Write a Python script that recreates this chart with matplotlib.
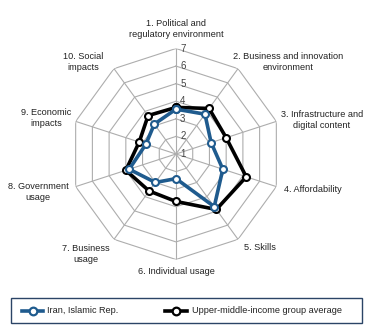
import numpy as np
import matplotlib
matplotlib.use("Agg")
import matplotlib.pyplot as plt
from matplotlib.lines import Line2D
from matplotlib.patches import Rectangle

categories = ["1. Political and\nregulatory environment",
              "2. Business and innovation\nenvironment",
              "3. Infrastructure and\ndigital content",
              "4. Affordability",
              "5. Skills",
              "6. Individual usage",
              "7. Business\nusage",
              "8. Government\nusage",
              "9. Economic\nimpacts",
              "10. Social\nimpacts"]
iran = [3.55, 3.8, 3.1, 3.8, 4.7, 2.4, 3.0, 3.8, 2.8, 3.1]
umi = [3.65, 4.2, 4.0, 5.2, 4.9, 3.7, 3.6, 4.0, 3.2, 3.7]
series_names = ["Iran, Islamic Rep.", "Upper-middle-income group average"]
ring_ticks = [1, 2, 3, 4, 5, 6, 7]

W, H = 368, 330
fig = plt.figure(figsize=(W / 100, H / 100), dpi=100)
plt.rcParams['font.family'] = ['Liberation Sans Narrow', 'Liberation Sans', 'DejaVu Sans']

cx, cy, R = 176, 154, 105.5
ax = fig.add_axes([(cx - R) / W, (H - cy - R) / H, 2 * R / W, 2 * R / H], projection='polar')
ax.set_theta_zero_location('N')
ax.set_theta_direction(-1)
ax.set_ylim(1, 7)
ax.grid(False)
ax.spines['polar'].set_visible(False)
ax.set_xticks([])
ax.set_yticks([])
ax.patch.set_alpha(0)

n = len(categories)
ang = np.linspace(0, 2 * np.pi, n, endpoint=False)
ang_c = np.append(ang, ang[0])

gc = '#adadad'
for r in ring_ticks[1:]:
    ax.plot(ang_c, [r] * (n + 1), color=gc, lw=0.8, zorder=1)
for a in ang:
    ax.plot([a, a], [1, 7], color=gc, lw=0.8, zorder=1)
for r in ring_ticks:
    ax.annotate(str(r), xy=(0, r), xytext=(3, 0), textcoords='offset points',
                fontsize=7, color='#444444', ha='left', va='center', zorder=2)

blue = '#1f5b8e'
ax.plot(ang_c, umi + umi[:1], color='black', lw=2.6, marker='o', ms=5,
        mfc='white', mec='black', mew=1.5, zorder=3)
ax.plot(ang_c, iran + iran[:1], color=blue, lw=2.6, marker='o', ms=5,
        mfc='white', mec=blue, mew=1.5, zorder=4)

label_pos = [(176, 29), (288, 62), (322, 120), (313, 189), (260, 248),
             (176, 272), (86, 254), (38, 192), (46, 118), (83, 62)]
for lab, (x, y) in zip(categories, label_pos):
    fig.text(x / W, 1 - y / H, lab, ha='center', va='center', fontsize=6.6,
             color='#222222', linespacing=1.3)

# legend box
fig.patches.append(Rectangle((10.7 / W, 1 - 323 / H), 351 / W, 25 / H,
                             transform=fig.transFigure, fill=False,
                             edgecolor='#2b4466', lw=1.0))
ly = 1 - 310.7 / H
entries = [(blue, 22, 43, 47), ('black', 165, 187, 192)]
for name, (col, x0, x1, tx) in zip(series_names, entries):
    fig.lines.append(Line2D([x0 / W, x1 / W], [ly, ly], transform=fig.transFigure,
                            color=col, lw=2.6))
    fig.lines.append(Line2D([(x0 + x1) / 2 / W], [ly], transform=fig.transFigure,
                            marker='o', ms=5.5, mfc='white', mec=col, mew=1.6, lw=0))
    fig.text(tx / W, ly, name, ha='left', va='center', fontsize=6.6, color='#222222')

fig.savefig('out.png', dpi=100)
